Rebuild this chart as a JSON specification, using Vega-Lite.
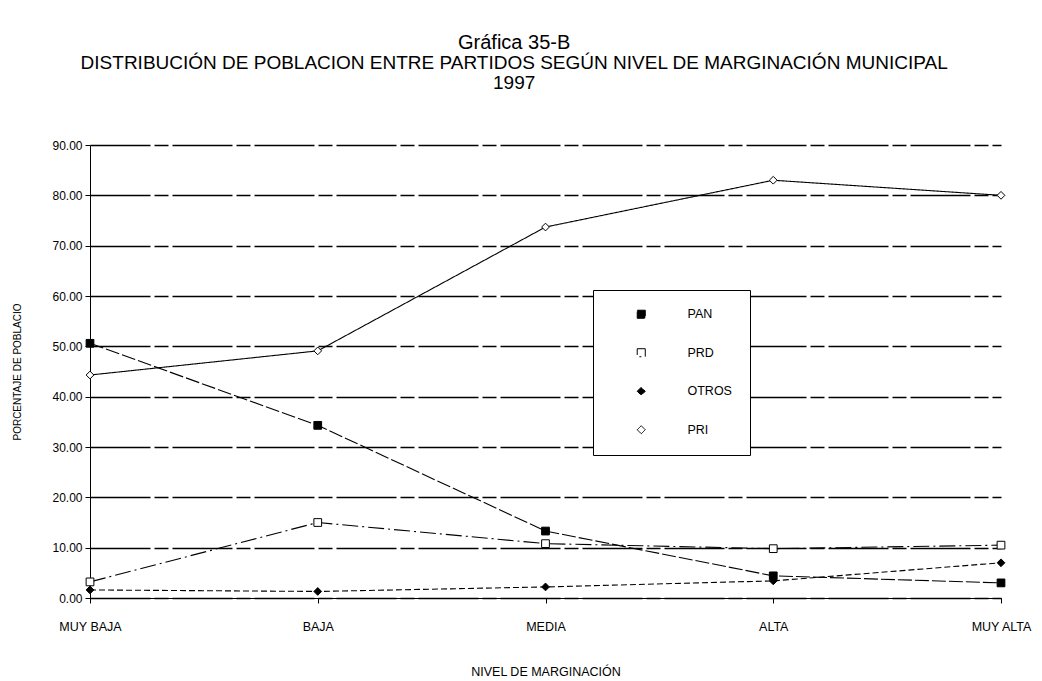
{
  "$schema": "https://vega.github.io/schema/vega-lite/v6.json",
  "width": 911,
  "height": 453,
  "autosize": "none",
  "padding": {"left": 90, "top": 145, "right": 41, "bottom": 83},
  "background": "white",
  "title": {
    "text": "Gráfica 35-B",
    "subtitle": ["DISTRIBUCIÓN DE POBLACION ENTRE PARTIDOS SEGÚN NIVEL DE MARGINACIÓN MUNICIPAL", "1997"],
    "font": "Liberation Sans",
    "fontSize": 20,
    "fontWeight": "normal",
    "subtitleFont": "Liberation Sans",
    "subtitleFontSize": 19,
    "subtitleLineHeight": 20,
    "subtitleColor": "black",
    "color": "black",
    "anchor": "middle",
    "frame": "bounds",
    "offset": 46,
    "subtitlePadding": 1,
    "dx": -8
  },
  "data": {
    "values": [
      {"nivel": "MUY BAJA", "partido": "PAN", "valor": 50.6},
      {"nivel": "BAJA", "partido": "PAN", "valor": 34.3},
      {"nivel": "MEDIA", "partido": "PAN", "valor": 13.3},
      {"nivel": "ALTA", "partido": "PAN", "valor": 4.4},
      {"nivel": "MUY ALTA", "partido": "PAN", "valor": 3.0},
      {"nivel": "MUY BAJA", "partido": "PRD", "valor": 3.2},
      {"nivel": "BAJA", "partido": "PRD", "valor": 15.0},
      {"nivel": "MEDIA", "partido": "PRD", "valor": 10.8},
      {"nivel": "ALTA", "partido": "PRD", "valor": 9.8},
      {"nivel": "MUY ALTA", "partido": "PRD", "valor": 10.5},
      {"nivel": "MUY BAJA", "partido": "OTROS", "valor": 1.6},
      {"nivel": "BAJA", "partido": "OTROS", "valor": 1.3},
      {"nivel": "MEDIA", "partido": "OTROS", "valor": 2.2},
      {"nivel": "ALTA", "partido": "OTROS", "valor": 3.4},
      {"nivel": "MUY ALTA", "partido": "OTROS", "valor": 7.0},
      {"nivel": "MUY BAJA", "partido": "PRI", "valor": 44.3},
      {"nivel": "BAJA", "partido": "PRI", "valor": 49.1},
      {"nivel": "MEDIA", "partido": "PRI", "valor": 73.7},
      {"nivel": "ALTA", "partido": "PRI", "valor": 83.0},
      {"nivel": "MUY ALTA", "partido": "PRI", "valor": 80.0}
    ]
  },
  "encoding": {
    "x": {
      "field": "nivel",
      "type": "ordinal",
      "sort": ["MUY BAJA", "BAJA", "MEDIA", "ALTA", "MUY ALTA"],
      "scale": {"type": "point", "padding": 0},
      "axis": {
        "title": "NIVEL DE MARGINACIÓN",
        "titleFont": "Liberation Sans",
        "titleFontSize": 12.5,
        "titleFontWeight": "normal",
        "titleColor": "black",
        "titlePadding": 33,
        "labelFont": "Liberation Sans",
        "labelFontSize": 12.5,
        "labelColor": "black",
        "labelAngle": 0,
        "labelPadding": 17,
        "domainColor": "black",
        "tickColor": "black",
        "tickSize": 5,
        "grid": false
      }
    },
    "y": {
      "field": "valor",
      "type": "quantitative",
      "scale": {"domain": [0, 90], "nice": false},
      "axis": {
        "title": "PORCENTAJE DE POBLACIO",
        "titleFont": "Liberation Sans",
        "titleFontSize": 10,
        "titleFontWeight": "normal",
        "titleColor": "black",
        "titlePadding": 29,
        "labelFont": "Liberation Sans",
        "labelFontSize": 12,
        "labelColor": "black",
        "labelPadding": 3,
        "format": ".2f",
        "values": [0, 10, 20, 30, 40, 50, 60, 70, 80, 90],
        "domainColor": "black",
        "tickColor": "black",
        "tickSize": 5,
        "grid": true,
        "gridColor": "black",
        "gridWidth": 1.3,
        "gridDash": [60, 4, 14, 4]
      }
    }
  },
  "layer": [
    {
      "mark": {"type": "line", "color": "black", "strokeWidth": 1.1},
      "encoding": {
        "detail": {"field": "partido"},
        "strokeDash": {
          "field": "partido",
          "type": "nominal",
          "scale": {
            "domain": ["PAN", "PRD", "OTROS", "PRI"],
            "range": [[14, 3], [16, 4, 2, 4], [6, 3], [1, 0]]
          },
          "legend": {
            "encode": {"symbols": {"update": {"stroke": {"value": "black"}, "strokeWidth": {"value": 1}, "strokeDash": {"value": [50, 0]}}}}
          }
        }
      }
    },
    {
      "mark": {"type": "point", "filled": true, "stroke": "black", "strokeWidth": 1, "opacity": 1},
      "encoding": {
        "shape": {
          "field": "partido",
          "type": "nominal",
          "scale": {
            "domain": ["PAN", "PRD", "OTROS", "PRI"],
            "range": ["square", "square", "diamond", "diamond"]
          },
          "legend": {
            "encode": {"symbols": {"update": {"stroke": {"value": "black"}, "strokeWidth": {"value": 1}, "strokeDash": {"value": [50, 0]}}}}
          }
        },
        "fill": {
          "field": "partido",
          "type": "nominal",
          "scale": {
            "domain": ["PAN", "PRD", "OTROS", "PRI"],
            "range": ["black", "white", "black", "white"]
          },
          "legend": {
            "encode": {"symbols": {"update": {"stroke": {"value": "black"}, "strokeWidth": {"value": 1}, "strokeDash": {"value": [50, 0]}}}}
          }
        },
        "size": {"value": 60}
      }
    }
  ],
  "config": {
    "font": "Liberation Sans",
    "view": {"stroke": null},
    "legend": {
      "title": null,
      "orient": "none",
      "legendX": 503,
      "legendY": 145,
      "direction": "vertical",
      "strokeColor": "black",
      "fillColor": "white",
      "padding": 18,
      "rowPadding": 25.5,
      "symbolSize": 65,
      "symbolStrokeColor": "black",
      "symbolStrokeWidth": 1,
      "labelFont": "Liberation Sans",
      "labelFontSize": 12.5,
      "labelColor": "black",
      "labelOffset": 40,
      "labelLimit": 200,
      "symbolOffset": 24
    }
  }
}
